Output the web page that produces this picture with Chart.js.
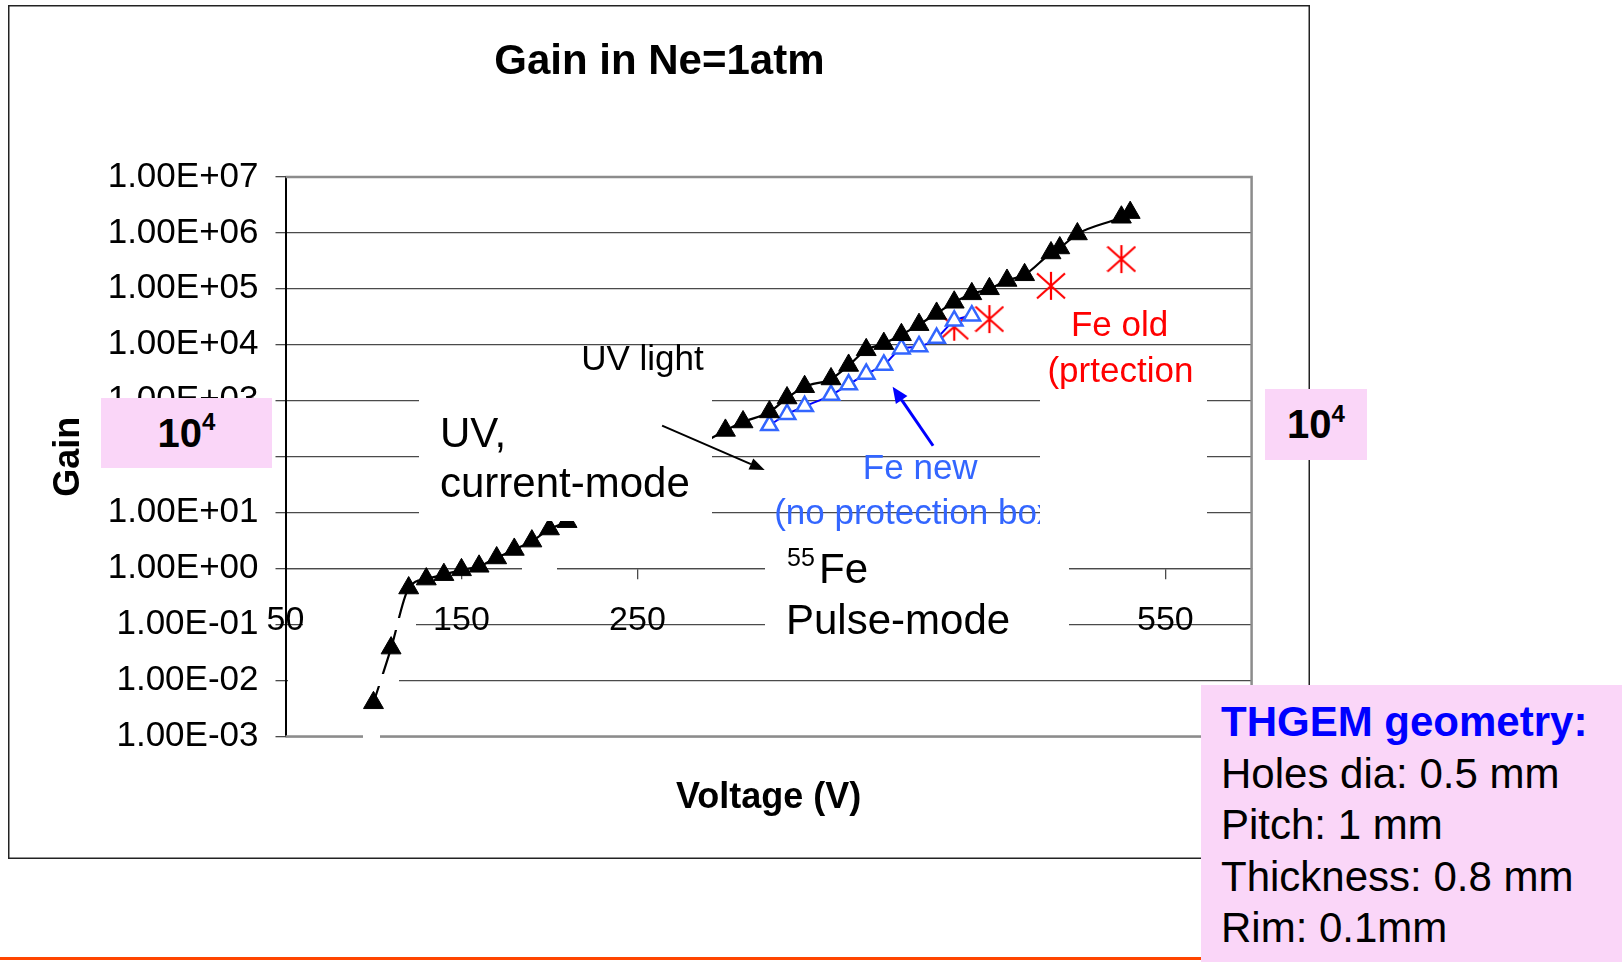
<!DOCTYPE html>
<html>
<head>
<meta charset="utf-8">
<title>Gain in Ne=1atm</title>
<script src="https://cdn.jsdelivr.net/npm/chart.js@4.4.1/dist/chart.umd.min.js"></script>
<style>
  html, body { margin: 0; padding: 0; background: #fff; }
  body { width: 1622px; height: 962px; position: relative; overflow: hidden; font-family: Arial, "Liberation Sans", sans-serif; }
  #wrap { position: absolute; left: 8px; top: 5px; width: 1302px; height: 854px; }
  .pink { position: absolute; background: #fad6f8; }
  .tag { display: flex; align-items: center; justify-content: center; font-weight: bold; font-size: 40px; color: #000; }
  .tag sup { font-size: 24px; vertical-align: baseline; position: relative; top: -11px; }
  #geom { left: 1201px; top: 685px; width: 421px; height: 277px; padding: 11px 0 0 20px; box-sizing: border-box; font-size: 42px; line-height: 51.5px; color: #000; }
  #geom .head { color: #0000ff; font-weight: bold; }
  #rule { position: absolute; left: 0; top: 957px; width: 1201px; height: 3px; background: #ff4500; }
</style>
</head>
<body>
<div id="wrap"><canvas id="gain" width="1302" height="854"></canvas></div>
<div class="pink tag" style="left:101px; top:398px; width:171px; height:70px">10<sup>4</sup></div>
<div class="pink tag" style="left:1265px; top:389px; width:102px; height:71px">10<sup>4</sup></div>
<div class="pink" id="geom">
  <div class="head">THGEM geometry:</div>
  <div>Holes dia: 0.5 mm</div>
  <div>Pitch: 1 mm</div>
  <div>Thickness: 0.8 mm</div>
  <div>Rim: 0.1mm</div>
</div>
<div id="rule"></div>

<script>
// UV light (current mode below ~210 V, then higher range)
const uvVolts = [100, 110, 120, 130, 140, 150, 160, 170, 180, 190, 200, 210,
  300, 310, 325, 335, 345, 360, 370, 380, 390, 400, 410, 420, 430, 440, 450, 460, 470, 485, 490, 500, 525, 530];
const uvGain = [0.004, 0.038, 0.45, 0.65, 0.78, 0.95, 1.1, 1.55, 2.2, 3.1, 5.1, 6.9,
  295, 417, 631, 1120, 1780, 2450, 4270, 8130, 10500, 15100, 22900, 36300, 57500, 81300, 100000, 141000, 178000, 437000, 537000, 955000, 1900000, 2300000];

// 55Fe, new (no protection box)
const feNewVolts = [325, 335, 345, 360, 370, 380, 390, 400, 410, 420, 430, 440];
const feNewGain = [363, 575, 794, 1260, 1950, 3020, 4370, 8510, 9330, 13200, 26900, 33100];

// 55Fe, old (protection)
const feOldVolts = [430, 450, 485, 525];
const feOldGain = [21000, 28800, 113000, 340000];

const xTicks = [50, 150, 250, 350, 450, 550];
const yTicks = [1e-3, 1e-2, 1e-1, 1, 10, 100, 1e3, 1e4, 1e5, 1e6, 1e7];
const yTickLabels = ['1.00E-03', '1.00E-02', '1.00E-01', '1.00E+00', '1.00E+01', '1.00E+02',
  '1.00E+03', '1.00E+04', '1.00E+05', '1.00E+06', '1.00E+07'];

const FONT = 'Arial, "Liberation Sans", sans-serif';
Chart.defaults.font.family = FONT;
Chart.defaults.color = '#000';

const points = (xs, ys) => xs.map((v, i) => ({ x: v, y: ys[i] }));

// Excel style asterisk marker
function asterisk(size, color) {
  const c = document.createElement('canvas');
  c.width = size; c.height = size;
  const g = c.getContext('2d');
  const m = size / 2;
  g.strokeStyle = color;
  g.lineWidth = 2.2;
  g.beginPath();
  g.moveTo(m, 1); g.lineTo(m, size - 1);
  g.moveTo(1, m - 12.5); g.lineTo(size - 1, m + 12.5);
  g.moveTo(1, m + 12.5); g.lineTo(size - 1, m - 12.5);
  g.stroke();
  return c;
}

function arrow(ctx, x1, y1, x2, y2, color, w, head, half) {
  const a = Math.atan2(y2 - y1, x2 - x1);
  const bx = x2 - head * Math.cos(a), by = y2 - head * Math.sin(a);
  ctx.strokeStyle = color;
  ctx.fillStyle = color;
  ctx.lineWidth = w;
  ctx.beginPath(); ctx.moveTo(x1, y1); ctx.lineTo(bx, by); ctx.stroke();
  ctx.beginPath();
  ctx.moveTo(x2, y2);
  ctx.lineTo(bx + half * Math.sin(a), by - half * Math.cos(a));
  ctx.lineTo(bx - half * Math.sin(a), by + half * Math.cos(a));
  ctx.closePath();
  ctx.fill();
}

// notes inside the chart, anchored in data units (volts, gain)
const notes = [
  { text: 'UV light', v: 218, g: 3540, color: '#000', align: 'left' },
  { text: 'Fe new', v: 410.7, g: 40.6, color: '#3366ff', align: 'center' },
  { text: '(no protection box)', v: 327.7, g: 6.27, color: '#3366ff', align: 'left' },
  { text: 'Fe old', v: 524, g: 14500, color: '#ff0000', align: 'center' },
  { text: '(prtection', v: 483, g: 2190, color: '#ff0000', align: 'left' }
];
const arrows = [
  { from: [264, 358], to: [322.3, 57.8], color: '#000', w: 2, head: 15, half: 6 },
  { from: [418, 157], to: [395, 1780], color: '#0000ff', w: 3, head: 16, half: 7 }
];

// white slide text boxes lying over the chart (canvas pixels)
const whiteBoxes = [[411, 387, 293, 129], [757, 530, 304, 115], [1032, 385, 167, 146]];
const gridGaps = [[295, 613, 113, 12], [280, 669, 111, 12], [355, 726, 17, 11], [514, 557, 35, 12]];

const slide = {
  id: 'slide',
  beforeDraw(chart) {
    const { ctx, width, height } = chart;
    ctx.save();
    ctx.fillStyle = '#fff';
    ctx.fillRect(0, 0, width, height);
    ctx.strokeStyle = '#222';
    ctx.lineWidth = 1.5;
    ctx.strokeRect(0.75, 0.75, width - 1.5, height - 1.5);
    ctx.restore();
  },
  beforeDatasetsDraw(chart) {
    const { ctx, chartArea: a } = chart;
    ctx.save();
    ctx.strokeStyle = '#8c8c8c';
    ctx.lineWidth = 2.5;
    ctx.beginPath();
    ctx.moveTo(a.left, a.top);
    ctx.lineTo(a.right, a.top);
    ctx.lineTo(a.right, a.bottom);
    ctx.lineTo(a.left, a.bottom);
    ctx.stroke();
    ctx.restore();
  },
  afterDatasetsDraw(chart) {
    const { ctx } = chart;
    const X = v => chart.scales.x.getPixelForValue(v);
    const Y = g => chart.scales.y.getPixelForValue(g);
    ctx.save();
    ctx.fillStyle = '#fff';
    gridGaps.forEach(r => ctx.fillRect(...r));

    ctx.font = '35px ' + FONT;
    ctx.textBaseline = 'alphabetic';
    notes.forEach(n => {
      ctx.fillStyle = n.color;
      ctx.textAlign = n.align;
      ctx.fillText(n.text, X(n.v), Y(n.g));
    });

    ctx.fillStyle = '#fff';
    whiteBoxes.forEach(r => ctx.fillRect(...r));

    arrows.forEach(a => arrow(ctx, X(a.from[0]), Y(a.from[1]), X(a.to[0]), Y(a.to[1]), a.color, a.w, a.head, a.half));

    ctx.fillStyle = '#000';
    ctx.textAlign = 'left';
    ctx.font = '42px ' + FONT;
    ctx.fillText('UV,', 432, 442);
    ctx.fillText('current-mode', 432, 492);
    ctx.fillText('Fe', 811, 578);
    ctx.fillText('Pulse-mode', 778, 629);
    ctx.font = '25px ' + FONT;
    ctx.fillText('55', 779, 561);
    ctx.restore();
  }
};

new Chart(document.getElementById('gain'), {
  type: 'line',
  data: {
    datasets: [
      {
        label: 'UV light',
        data: points(uvVolts, uvGain),
        borderColor: '#000',
        borderWidth: 2.2,
        cubicInterpolationMode: 'monotone',
        pointStyle: 'triangle',
        pointRadius: 11.5,
        pointBackgroundColor: '#000',
        pointBorderColor: '#000',
        pointBorderWidth: 1
      },
      {
        label: 'Fe new',
        data: points(feNewVolts, feNewGain),
        borderColor: '#0000ff',
        borderWidth: 2,
        cubicInterpolationMode: 'monotone',
        pointStyle: 'triangle',
        pointRadius: 9.5,
        pointBackgroundColor: '#fff',
        pointBorderColor: '#3366ff',
        pointBorderWidth: 2.5
      },
      {
        label: 'Fe old',
        data: points(feOldVolts, feOldGain),
        showLine: false,
        pointStyle: asterisk(30, '#ff0000')
      }
    ]
  },
  options: {
    responsive: false,
    animation: false,
    layout: { padding: { left: 59.2, right: 58.4, top: 0, bottom: 122.5 } },
    plugins: {
      legend: { display: false },
      tooltip: { enabled: false },
      title: {
        display: true,
        text: 'Gain in Ne=1atm',
        color: '#000',
        font: { size: 42, weight: 'bold' },
        padding: { top: 31.8, bottom: 89.7 }
      }
    },
    scales: {
      x: {
        type: 'linear',
        min: 50,
        max: 599,
        position: { y: 1 },
        afterBuildTicks: s => { s.ticks = xTicks.map(v => ({ value: v })); },
        afterFit: s => { s.height = 251.5; },
        ticks: { font: { size: 34 }, padding: 21.3, maxRotation: 0, autoSkip: false },
        grid: { drawOnChartArea: false, color: '#4a4a4a', lineWidth: 1.3, tickLength: 10 },
        border: { color: '#4a4a4a', width: 1.3 },
        title: { display: true, text: 'Voltage (V)', font: { size: 36, weight: 'bold' }, padding: 0 }
      },
      y: {
        type: 'logarithmic',
        min: 1e-3,
        max: 1e7,
        afterBuildTicks: s => { s.ticks = yTicks.map(v => ({ value: v })); },
        afterFit: s => { s.width = 218.3; },
        ticks: { font: { size: 35 }, padding: 17, autoSkip: false, callback: (v, i) => yTickLabels[i] },
        grid: { color: '#4a4a4a', lineWidth: 1.3, tickLength: 10 },
        border: { color: '#000', width: 2 },
        title: { display: true, text: 'Gain', font: { size: 36, weight: 'bold' }, padding: { top: -19.8, bottom: 0 } }
      }
    }
  },
  plugins: [slide]
});
</script>
</body>
</html>
